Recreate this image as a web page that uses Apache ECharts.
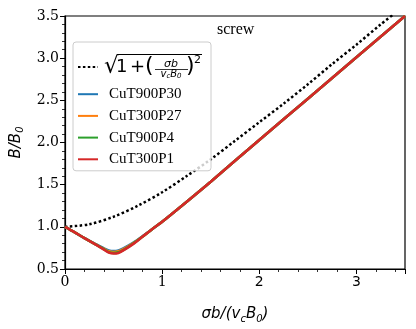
<!DOCTYPE html>
<html>
<head>
<meta charset="utf-8">
<script src="https://cdn.jsdelivr.net/npm/echarts@6/dist/echarts.min.js"></script>
<style>
  html, body { margin: 0; padding: 0; background: #fff; }
  #chart { width: 416px; height: 329px; }
</style>
</head>
<body>
<div id="chart"></div>
<script>
// reference curve sqrt(1 + (sigma b / v_c B0)^2)
var xDot = [0, 0.25, 0.5, 0.75, 1.0, 1.25, 1.5, 1.75, 2.0, 2.25, 2.5, 2.75, 3.0, 3.25, 3.37];
var yDot = [1.00, 1.03, 1.12, 1.25, 1.41, 1.60, 1.80, 2.02, 2.24, 2.46, 2.69, 2.93, 3.16, 3.40, 3.51];

// simulated curves
var xSim = [0, 0.1, 0.2, 0.3, 0.4, 0.45, 0.5, 0.55, 0.6, 0.7, 0.8, 0.9, 1.0, 1.25, 1.5, 2.0, 2.5, 3.0, 3.5];
var yT900P30 = [1.00, 0.935, 0.865, 0.805, 0.745, 0.72, 0.713, 0.72, 0.745, 0.81, 0.89, 0.975, 1.06, 1.295, 1.535, 2.03, 2.52, 3.01, 3.50];
var yT300P27 = [1.00, 0.935, 0.865, 0.80, 0.74, 0.71, 0.70, 0.71, 0.735, 0.805, 0.885, 0.975, 1.06, 1.295, 1.535, 2.03, 2.52, 3.01, 3.50];
var yT900P4 = [1.00, 0.935, 0.865, 0.80, 0.735, 0.70, 0.69, 0.70, 0.725, 0.80, 0.885, 0.975, 1.06, 1.295, 1.535, 2.03, 2.52, 3.01, 3.50];
var yT300P1 = [1.00, 0.935, 0.865, 0.80, 0.73, 0.695, 0.683, 0.69, 0.72, 0.795, 0.885, 0.975, 1.06, 1.295, 1.535, 2.03, 2.52, 3.01, 3.50];

var simNames = ['CuT900P30', 'CuT300P27', 'CuT900P4', 'CuT300P1'];
var simColors = ['#1f77b4', '#ff7f0e', '#2ca02c', '#d62728'];
var simValues = [yT900P30, yT300P27, yT900P4, yT300P1];
var dotName = '√(1+(σb/(v_cB_0))²)';

var xTicks = [0, 1, 2, 3];
var yTicks = [0.5, 1.0, 1.5, 2.0, 2.5, 3.0, 3.5];

function pairs(xs, ys) {
  return xs.map(function (x, i) { return [x, ys[i]]; });
}

var chart = echarts.init(document.getElementById('chart'));

var series = [{
  name: dotName,
  type: 'line',
  smooth: 0.3,
  symbol: 'none',
  clip: true,
  lineStyle: { color: '#000', width: 2.5, type: [2.5, 2.4] },
  itemStyle: { color: '#000' },
  data: pairs(xDot, yDot)
}];
simNames.forEach(function (n, i) {
  series.push({
    name: n,
    type: 'line',
    smooth: 0.25,
    symbol: 'none',
    z: 3 + i,
    lineStyle: { color: simColors[i], width: 2.6 },
    itemStyle: { color: simColors[i] },
    data: pairs(xSim, simValues[i])
  });
});

var serif = 'DejaVu Serif';
var sans = 'DejaVu Sans';

// the formula in the first legend row, drawn as text pieces
function txt(s, x, y, font, align, va) {
  return {
    type: 'text', x: x, y: y, z: 100,
    style: { text: s, font: font, fill: '#000', align: align || 'left', verticalAlign: va || 'middle' }
  };
}
function rule(x1, x2, y, w) {
  return { type: 'line', z: 100, shape: { x1: x1, y1: y, x2: x2, y2: y }, style: { stroke: '#000', lineWidth: w } };
}
var formula = [
  txt('√', 104, 67, '23px "DejaVu Sans"'),
  rule(117, 202, 54.5, 1),
  txt('1', 116, 67, '18px "DejaVu Sans"'),
  txt('+', 130, 67, '18px "DejaVu Sans"'),
  txt('(', 145, 66, '22px "DejaVu Sans"'),
  txt('σb', 171, 64, 'italic 11px "DejaVu Sans"', 'center'),
  rule(155, 188, 69.5, 0.8),
  {
    type: 'text', x: 171, y: 74, z: 100,
    style: {
      text: '{i|v}{s|c}{i|B}{s|0}', align: 'center', verticalAlign: 'middle',
      rich: {
        i: { font: 'italic 10px "DejaVu Sans"', fill: '#000', lineHeight: 11 },
        s: { font: 'italic 7px "DejaVu Sans"', fill: '#000', verticalAlign: 'bottom', lineHeight: 8 }
      }
    }
  },
  txt(')', 186, 66, '22px "DejaVu Sans"'),
  txt('2', 194, 60, '11px "DejaVu Sans"')
];

chart.setOption({
  animation: false,
  backgroundColor: '#fff',
  title: {
    text: 'screw',
    left: 212,
    top: 17,
    textStyle: { fontFamily: 'Liberation Serif', fontSize: 16, fontWeight: 'normal', color: '#000' }
  },
  grid: {
    left: 65, right: 11, top: 16, bottom: 60,
    show: true, borderColor: '#000', borderWidth: 1.2
  },
  legend: {
    orient: 'vertical',
    left: 73,
    top: 42,
    padding: [12, 8, 4, 4],
    itemGap: 6.7,
    itemWidth: 20,
    itemHeight: 14,
    selectedMode: false,
    backgroundColor: 'rgba(255,255,255,0.8)',
    borderColor: '#cccccc',
    borderWidth: 1,
    borderRadius: 3,
    itemStyle: { color: 'rgba(0,0,0,0)', borderWidth: 0, opacity: 0 },
    data: [dotName].concat(simNames),
    formatter: function (name) {
      return name === dotName ? '{f|\u00a0}' : name;
    },
    textStyle: {
      fontFamily: 'Liberation Serif',
      fontSize: 15,
      color: '#000',
      padding: [0, 0, 0, 6],
      rich: { f: { width: 94, height: 26, lineHeight: 26 } }
    }
  },
  xAxis: {
    type: 'value',
    min: 0, max: 3.5, interval: 1,
    name: '{i|σb/(v}{s|c}{i|B}{s|0}{i|)}',
    nameLocation: 'middle',
    nameGap: 35,
    nameTextStyle: {
      rich: {
        i: { fontFamily: sans, fontStyle: 'italic', fontSize: 15, color: '#000', lineHeight: 20 },
        s: { fontFamily: sans, fontStyle: 'italic', fontSize: 10, color: '#000', verticalAlign: 'bottom', lineHeight: 14 }
      }
    },
    axisLine: { show: true, lineStyle: { color: '#000', width: 1.2 } },
    axisTick: { show: true, length: 5, lineStyle: { color: '#000', width: 1 } },
    minorTick: { show: true, splitNumber: 5, length: 3, lineStyle: { color: '#000', width: 0.8 } },
    splitLine: { show: false },
    axisLabel: {
      showMaxLabel: false,
      margin: 6,
      formatter: function (v) {
        if (xTicks.indexOf(v) < 0) return '';
        return v < 2 ? '{a|' + v + '}' : '{b|' + v + '}';
      },
      rich: {
        a: { fontFamily: serif, fontSize: 14, color: '#000' },
        b: { fontFamily: sans, fontSize: 14, color: '#000' }
      }
    }
  },
  yAxis: {
    type: 'value',
    min: 0.5, max: 3.5, interval: 0.5,
    name: '{i|B/B}{s|0}',
    nameLocation: 'middle',
    nameRotate: 90,
    nameGap: 36,
    nameTextStyle: {
      rich: {
        i: { fontFamily: sans, fontStyle: 'italic', fontSize: 15, color: '#000', lineHeight: 20 },
        s: { fontFamily: sans, fontStyle: 'italic', fontSize: 10, color: '#000', verticalAlign: 'bottom', lineHeight: 14 }
      }
    },
    axisLine: { show: true, lineStyle: { color: '#000', width: 1.2 } },
    axisTick: { show: true, length: 5, lineStyle: { color: '#000', width: 1 } },
    minorTick: { show: true, splitNumber: 5, length: 3, lineStyle: { color: '#000', width: 0.8 } },
    splitLine: { show: false },
    axisLabel: {
      margin: 6,
      fontFamily: serif,
      fontSize: 14,
      color: '#000',
      formatter: function (v) { return yTicks.indexOf(v) < 0 ? '' : v.toFixed(1); }
    }
  },
  graphic: formula,
  series: series
});
</script>
</body>
</html>
